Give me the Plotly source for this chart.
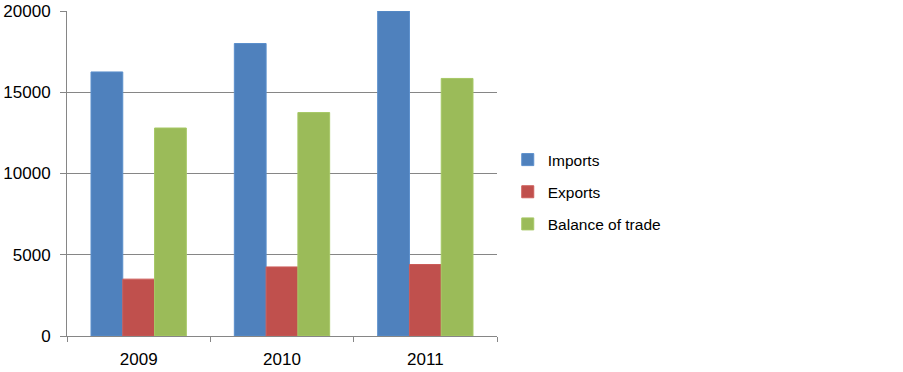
import plotly.graph_objects as go

years = ["2009", "2010", "2011"]
imports = [16250, 18000, 20000]
exports = [3500, 4250, 4400]
balance = [12800, 13750, 15850]

series_names = ["Imports", "Exports", "Balance of trade"]
colors = ["#4F81BD", "#C0504D", "#9BBB59"]
edge_colors = ["#5B8FCC", "#CC5C59", "#A6C865"]
y_ticks = [0, 5000, 10000, 15000, 20000]

FONT = "Liberation Sans"

fig = go.Figure()
for name, vals, c, ec in zip(series_names, [imports, exports, balance], colors, edge_colors):
    fig.add_trace(go.Bar(
        x=years, y=vals, name=name, legendgroup=name,
        marker=dict(color=c, line=dict(color=ec, width=1)),
    ))

fig.update_layout(
    width=903, height=372,
    margin=dict(l=67, r=406, t=11, b=36, pad=0),
    paper_bgcolor="white", plot_bgcolor="white",
    barmode="group", bargap=0.335, bargroupgap=0,
    font=dict(family=FONT, size=17, color="#000000"),
    showlegend=True,
    legend=dict(
        x=1.025, xanchor="left", y=0.443, yanchor="middle",
        font=dict(family=FONT, size=15.5, color="#000000"),
        tracegroupgap=9, bgcolor="rgba(0,0,0,0)",
    ),
    xaxis=dict(
        type="category", showline=True, linecolor="#868686", linewidth=1,
        ticks="outside", tickson="boundaries", ticklen=5, tickcolor="#868686",
        showgrid=False, ticklabelstandoff=8, automargin=False,
        tickfont=dict(family=FONT, size=17),
    ),
    yaxis=dict(
        range=[0, 20000], tickvals=y_ticks, ticktext=[str(v) for v in y_ticks],
        showline=True, linecolor="#868686", linewidth=1,
        showgrid=True, gridcolor="#868686", gridwidth=1,
        ticks="outside", ticklen=6, tickcolor="#868686",
        ticklabelstandoff=6, zeroline=False, automargin=False,
        tickfont=dict(family=FONT, size=17),
    ),
)

fig.write_html(
    "out.html",
    config={"displayModeBar": False},
    post_script="document.body.style.margin='0px';document.body.style.overflow='hidden';",
)
